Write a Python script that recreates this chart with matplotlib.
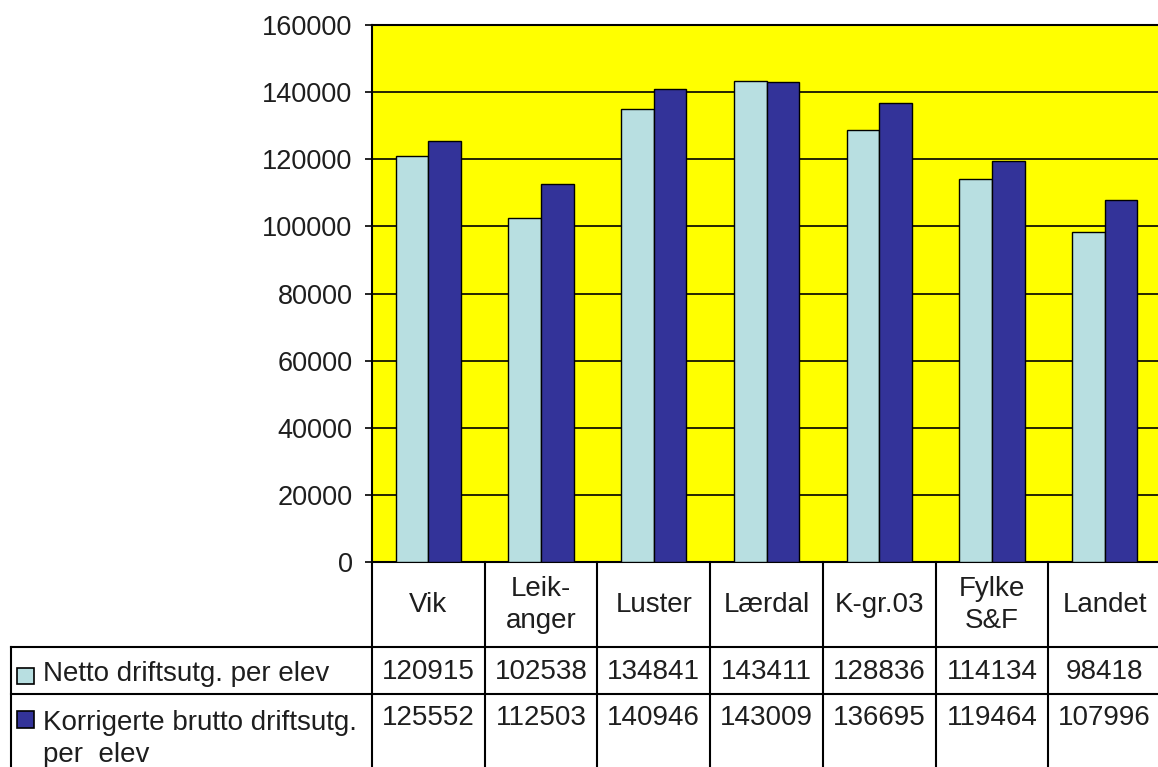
import matplotlib
matplotlib.use("Agg")
import matplotlib.pyplot as plt
import numpy as np

# Data
categories = ["Vik", "Leik-\nanger", "Luster", "Lærdal", "K-gr.03", "Fylke\nS&F", "Landet"]
netto = [120915, 102538, 134841, 143411, 128836, 114134, 98418]
brutto = [125552, 112503, 140946, 143009, 136695, 119464, 107996]
series_names = ["Netto driftsutg. per elev", "Korrigerte brutto driftsutg.\nper  elev"]
yticks = [0, 20000, 40000, 60000, 80000, 100000, 120000, 140000, 160000]

plt.rcParams['font.family'] = ['Liberation Sans', 'DejaVu Sans']
light = "#B8DFE1"
dark = "#333399"
txt = "#1e1e1e"
fs = 20

W, H = 1158, 767
fig = plt.figure(figsize=(W / 100, H / 100), dpi=100)

# plot area in pixels
left, right, top, bottom = 372, 1161, 25, 562
ax = fig.add_axes([left / W, (H - bottom) / H, (right - left) / W, (bottom - top) / H])
ax.set_facecolor("#FFFF00")

x = np.arange(len(categories))
bw = 0.29
ax.bar(x - bw / 2, netto, bw, color=light, edgecolor="black", linewidth=1, zorder=3)
ax.bar(x + bw / 2, brutto, bw, color=dark, edgecolor="black", linewidth=1, zorder=3)

ax.set_xlim(-0.5, len(categories) - 0.5)
ax.set_ylim(0, 160000)
ax.set_yticks(yticks)
ax.set_yticklabels([str(v) for v in yticks], fontsize=19.5, color=txt)
ax.yaxis.grid(True, color="black", linewidth=1.2, zorder=1)
ax.set_axisbelow(True)
ax.set_xticks([])
ax.tick_params(axis="y", length=5, width=1.2, pad=9)
for s in ["left", "top", "bottom"]:
    ax.spines[s].set_linewidth(1.5)
ax.spines["right"].set_visible(False)

# data table below the plot, drawn in pixel coordinates
ov = fig.add_axes([0, 0, 1, 1], zorder=5)
ov.set_xlim(0, W)
ov.set_ylim(H, 0)
ov.axis("off")

cw = (right - left) / len(categories)
r1, r2 = 647, 694
lw = 1.5

# vertical lines
for i in range(len(categories) + 1):
    xc = left + i * cw
    ov.plot([xc, xc], [bottom, H + 5], color="black", lw=lw)
ov.plot([10.5, 10.5], [r1, H + 5], color="black", lw=lw)
# horizontal lines
ov.plot([10.5, right], [r1, r1], color="black", lw=lw)
ov.plot([10.5, right], [r2, r2], color="black", lw=lw)

for i, cat in enumerate(categories):
    xc = left + (i + 0.5) * cw
    ov.text(xc, (bottom + r1) / 2 + 1, cat, ha="center", va="center",
            fontsize=fs, color=txt, linespacing=1.3)
    ov.text(xc, 672, str(netto[i]), ha="center", va="center", fontsize=fs, color=txt)
    ov.text(xc, 718, str(brutto[i]), ha="center", va="center", fontsize=fs, color=txt)

# legend keys + row labels
ov.add_patch(plt.Rectangle((17, 668), 17, 16, facecolor=light, edgecolor="black", lw=1.2))
ov.text(43, 674, series_names[0], ha="left", va="center", fontsize=fs, color=txt)
ov.add_patch(plt.Rectangle((17, 711), 17, 17, facecolor=dark, edgecolor="black", lw=1.2))
ov.text(43, 720, series_names[1], ha="left", va="top", fontsize=fs, color=txt,
        linespacing=1.35)
ov.texts[-1].set_va("center")
ov.texts[-1].set_y(739)

fig.savefig("out.png", dpi=100)
